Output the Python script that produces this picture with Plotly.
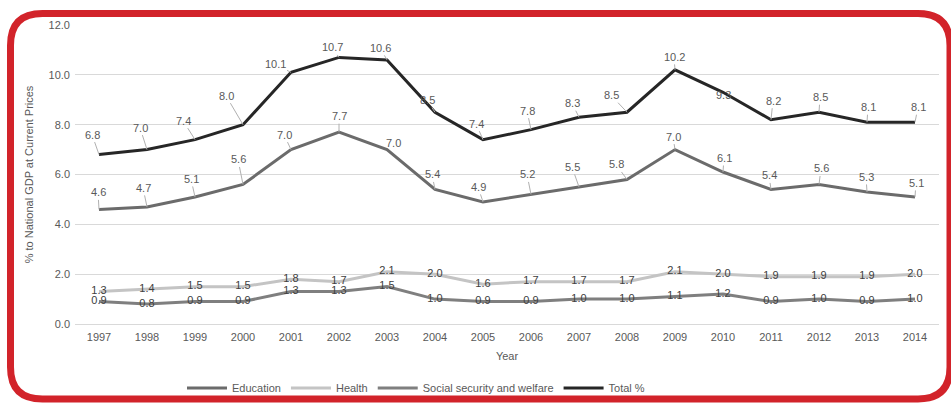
import plotly.graph_objects as go

years = [str(y) for y in range(1997, 2015)]
total = [6.8, 7.0, 7.4, 8.0, 10.1, 10.7, 10.6, 8.5, 7.4, 7.8, 8.3, 8.5, 10.2, 9.3, 8.2, 8.5, 8.1, 8.1]
education = [4.6, 4.7, 5.1, 5.6, 7.0, 7.7, 7.0, 5.4, 4.9, 5.2, 5.5, 5.8, 7.0, 6.1, 5.4, 5.6, 5.3, 5.1]
health = [1.3, 1.4, 1.5, 1.5, 1.8, 1.7, 2.1, 2.0, 1.6, 1.7, 1.7, 1.7, 2.1, 2.0, 1.9, 1.9, 1.9, 2.0]
social = [0.9, 0.8, 0.9, 0.9, 1.3, 1.3, 1.5, 1.0, 0.9, 0.9, 1.0, 1.0, 1.1, 1.2, 0.9, 1.0, 0.9, 1.0]
y_ticks = [0, 2, 4, 6, 8, 10, 12]

# label offsets (pixels) for leader-lined data labels
total_off = [(-7, -20), (-7, -22), (-12, -19), (-17, -29), (-16, -8), (-7, -10), (-7, -12),
             (-8, -12), (-7, -16), (-4, -19), (-7, -14), (-16, -17), (-1, -13), (0, 3),
             (2, -19), (1, -15), (1, -15), (3, -15)]
edu_off = [(-1, -17), (-4, -19), (-4, -18), (-5, -25), (-7, -15), (0, -16), (6, -7),
           (-3, -15), (-5, -15), (-4, -20), (-7, -20), (-11, -15), (-2, -13), (1, -14),
           (-2, -14), (2, -16), (-1, -15), (1, -14)]

FONT = "Liberation Sans"
TXT = "#595959"

fig = go.Figure()
fig.add_trace(go.Scatter(x=years, y=education, name="Education", mode="lines",
                         line=dict(color="#6b6b6b", width=3)))
fig.add_trace(go.Scatter(x=years, y=health, name="Health", mode="lines+text",
                         line=dict(color="#c4c4c4", width=3),
                         texttemplate="%{y:.1f}", textposition="middle center",
                         textfont=dict(color="#404040", size=11, family=FONT)))
fig.add_trace(go.Scatter(x=years, y=social, name="Social security and welfare", mode="lines+text",
                         line=dict(color="#7f7f7f", width=3),
                         texttemplate="%{y:.1f}", textposition="middle center",
                         textfont=dict(color="#404040", size=11, family=FONT)))
fig.add_trace(go.Scatter(x=years, y=total, name="Total %", mode="lines",
                         line=dict(color="#262626", width=3)))

annotations = []
for series, offs in ((total, total_off), (education, edu_off)):
    for i, (v, (ax, ay)) in enumerate(zip(series, offs)):
        annotations.append(dict(x=i, y=v, xref="x", yref="y", text=f"{v:.1f}",
                                showarrow=True, arrowhead=0, arrowwidth=1,
                                arrowcolor="#b0b0b0", ax=ax, ay=ay, standoff=0,
                                font=dict(size=11, color=TXT, family=FONT)))

# Rounded red frame, expressed in paper units
L, R, T, B = 75, 939, 25, 324
W, H = R - L, B - T
def px(x):
    return (x - L) / W
def py(y):
    return (B - y) / H
x0, x1, y0, y1, r = 10.5, 950, 13.5, 399, 32
path = (f"M {px(x0 + r)},{py(y0)} L {px(x1 - r)},{py(y0)} "
        f"Q {px(x1)},{py(y0)} {px(x1)},{py(y0 + r)} L {px(x1)},{py(y1 - r)} "
        f"Q {px(x1)},{py(y1)} {px(x1 - r)},{py(y1)} L {px(x0 + r)},{py(y1)} "
        f"Q {px(x0)},{py(y1)} {px(x0)},{py(y1 - r)} L {px(x0)},{py(y0 + r)} "
        f"Q {px(x0)},{py(y0)} {px(x0 + r)},{py(y0)} Z")

fig.update_layout(
    width=951, height=404,
    margin=dict(l=L, r=951 - R, t=T, b=404 - B, autoexpand=False),
    paper_bgcolor="white", plot_bgcolor="white",
    font=dict(family=FONT, size=11, color=TXT),
    showlegend=True,
    legend=dict(orientation="h", x=416 / 951, y=1 - 388 / 404, xref="container",
                yref="container", xanchor="center", yanchor="middle",
                bgcolor="rgba(0,0,0,0)",
                font=dict(size=11, color=TXT, family=FONT), itemwidth=40),
    annotations=annotations,
    shapes=[dict(type="path", path=path, xref="paper", yref="paper",
                 line=dict(color="#d2232a", width=7), layer="above")],
    xaxis=dict(type="category", range=[-0.5, len(years) - 0.5], showgrid=False,
               showline=False, ticks="", ticklabelstandoff=5,
               tickfont=dict(size=11, color=TXT),
               title=dict(text="Year", font=dict(size=11, color=TXT), standoff=10)),
    yaxis=dict(range=[0, 12], tickvals=y_ticks, tickformat=".1f",
               showgrid=True, gridcolor="#d9d9d9", gridwidth=1,
               zeroline=True, zerolinecolor="#d9d9d9", zerolinewidth=1,
               showline=False, ticks="", ticklen=0, ticklabelstandoff=4,
               tickfont=dict(size=11, color=TXT),
               title=dict(text="% to National GDP at Current Prices",
                          font=dict(size=11, color=TXT), standoff=12)),
)

fig.write_html("out.html")
